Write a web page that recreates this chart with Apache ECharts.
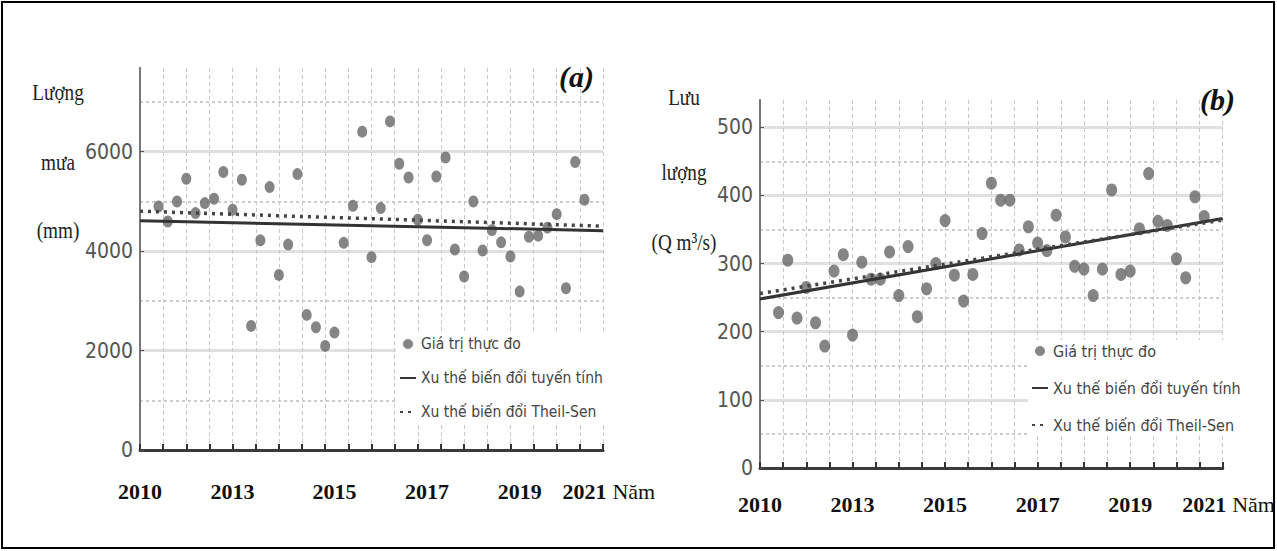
<!DOCTYPE html>
<html>
<head>
<meta charset="utf-8">
<script src="https://cdn.jsdelivr.net/npm/echarts@6/dist/echarts.min.js"></script>
<style>
  html, body { margin: 0; padding: 0; background: #fff; }
  #chart { width: 1277px; height: 551px; }
</style>
</head>
<body>
<div id="chart"></div>
<script>
// (a) rainfall, one value per observation slot 2..48
const rainfall = [4895, 4594, 4996, 5453, 4763, 4964, 5050, 5588, 4829, 5433,
  2495, 4215, 5286, 3520, 4130, 5547, 2716, 2469, 2093, 2360,
  4165, 4910, 6400, 3877, 4863, 6606, 5755, 5479, 4628, 4218,
  5499, 5882, 4030, 3487, 4996, 4010, 4420, 4175, 3889, 3185,
  4286, 4309, 4470, 4742, 3253, 5789, 5030]

// (b) discharge (Q m3/s)
const discharge = [228, 305, 220, 265, 213, 179, 289, 313, 195, 302,
  277, 277, 317, 253, 325, 222, 263, 300, 363, 283,
  245, 284, 344, 418, 393, 393, 320, 354, 330, 319,
  371, 339, 296, 292, 253, 292, 408, 284, 289, 351,
  432, 362, 356, 307, 279, 398, 369]

// trend lines, value at start and end of the axis
const trendLinearA = [4610, 4410]
const trendTheilA = [4800, 4500]
const trendLinearB = [248, 366]
const trendTheilB = [256, 364]

// x axis: 51 slots, year labels put on a few of them
const yearLabels = ['2010', '2013', '2015', '2017', '2019', '2021']
const yearSlotsA = [0, 10, 21, 31, 41, 48]
const yearSlotsB = [0, 10, 20, 30, 40, 48]
const slotCount = 51
const emptySlots = 2

const names = ['Giá trị thực đo', 'Xu thế biến đổi tuyến tính', 'Xu thế biến đổi Theil-Sen']

const SANS_N = "'Liberation Sans Narrow', 'DejaVu Sans Condensed', 'Liberation Sans', sans-serif"
const SERIF = "'Liberation Serif', 'DejaVu Serif', serif"

function slotLabels(slots) {
  const arr = new Array(slotCount).fill('')
  slots.forEach((s, i) => { arr[s] = yearLabels[i] })
  return arr
}

function padded(values) {
  return new Array(emptySlots).fill('-').concat(values)
}

function xAxes(grid, slots, labelMargin, namePad, nameGap) {
  return [{
    type: 'category', gridIndex: grid, position: 'bottom',
    data: slotLabels(slots), boundaryGap: false,
    axisLine: { show: true, lineStyle: { color: '#3a3a3a', width: 3 } },
    axisTick: { show: false },
    axisLabel: { interval: 0, margin: labelMargin, fontFamily: SERIF, fontWeight: 'bold', fontSize: 22, color: '#111' },
    splitLine: { show: false },
    name: 'Năm', nameLocation: 'end', nameGap: nameGap,
    nameTextStyle: { fontFamily: SERIF, fontSize: 22, color: '#111', verticalAlign: 'top', padding: [namePad, 0, 0, 0] }
  }, {
    type: 'value', gridIndex: grid, position: 'bottom', min: 0, max: 20, interval: 1,
    axisLine: { show: false },
    axisTick: { show: true, inside: true, length: 6, lineStyle: { color: '#333', width: 2 } },
    axisLabel: { show: false },
    splitLine: { show: true, lineStyle: { color: '#c8c8c8', type: [4, 3], width: 1 } }
  }]
}

function yAxes(grid, max, major, minor) {
  return [{
    type: 'value', gridIndex: grid, position: 'right', min: 0, max: max, interval: minor,
    axisLine: { show: true, lineStyle: { color: '#777', width: 2 } },
    axisTick: { show: false },
    axisLabel: { show: false },
    splitLine: { show: true, showMaxLine: false, lineStyle: { color: '#bdbdbd', type: [3, 3], width: 1.5 } }
  }, {
    type: 'value', gridIndex: grid, position: 'left', min: 0, max: max, interval: major,
    axisLine: { show: true, lineStyle: { color: '#777', width: 2 } },
    axisTick: { show: true, inside: true, length: 4, lineStyle: { color: '#555' } },
    axisLabel: { showMaxLabel: false, margin: 7, fontFamily: SANS_N, fontSize: 21, color: '#555', formatter: v => String(v) },
    splitLine: { show: true, showMaxLine: false, lineStyle: { color: '#e0e0e0', width: 3 } }
  }]
}

function panelSeries(xi, yi, values, lin, theil, size) {
  return [{
    name: names[0], type: 'scatter', xAxisIndex: xi, yAxisIndex: yi,
    data: padded(values), symbol: 'circle', symbolSize: size,
    itemStyle: { color: '#676767' }, z: 2
  }, {
    name: names[1], type: 'line', xAxisIndex: xi, yAxisIndex: yi,
    data: [[0, lin[0]], [slotCount - 1, lin[1]]], symbol: 'none',
    lineStyle: { color: '#333', width: 3 }, itemStyle: { color: '#333' }, z: 3
  }, {
    name: names[2], type: 'line', xAxisIndex: xi, yAxisIndex: yi,
    data: [[0, theil[0]], [slotCount - 1, theil[1]]], symbol: 'none',
    lineStyle: { color: '#444', width: 3.5, type: [3, 5] }, itemStyle: { color: '#444' }, z: 3
  }]
}

function yTitle(x, y, text) {
  return {
    type: 'text', x: x, y: y, scaleX: 0.8, silent: true,
    style: { text: text, font: '24px ' + SERIF, fill: '#222', align: 'center', verticalAlign: 'middle' }
  }
}

const chart = echarts.init(document.getElementById('chart'), null, { renderer: 'svg' })

function legendFor(left, top, gap, size) {
  return {
    data: [
      { name: names[0] },
      { name: names[1], itemStyle: { opacity: 0 } },
      { name: names[2], itemStyle: { opacity: 0 } }
    ],
    orient: 'vertical', left: left, top: top, itemGap: gap,
    itemWidth: 16, itemHeight: 10,
    backgroundColor: '#fff', padding: [3, 3, 3, 3],
    textStyle: { fontFamily: SANS_N, fontSize: size, color: '#444' }
  }
}

chart.setOption({
  animation: false,
  backgroundColor: '#fff',
  title: [
    { text: '(a)', left: 554, top: 56, textStyle: { fontFamily: SERIF, fontStyle: 'italic', fontWeight: 'bold', fontSize: 30, color: '#111' } },
    { text: '(b)', left: 1195, top: 79, textStyle: { fontFamily: SERIF, fontStyle: 'italic', fontWeight: 'bold', fontSize: 30, color: '#111' } }
  ],
  grid: [
    { left: 140, top: 68, width: 463, height: 382 },
    { left: 760, top: 100, width: 485, height: 368 }
  ],
  legend: [
    legendFor(396, 333, 18, 15.5),
    legendFor(1028, 340, 21, 16)
  ],
  xAxis: xAxes(0, yearSlotsA, 30, 30, 4).concat(xAxes(1, yearSlotsB, 25, 25, -5)),
  yAxis: yAxes(0, 7680, 2000, 1000).concat(yAxes(1, 540, 100, 50)),
  series: panelSeries(0, 1, rainfall, trendLinearA, trendTheilA, [10, 12])
    .concat(panelSeries(2, 3, discharge, trendLinearB, trendTheilB, [11, 13])),
  graphic: [
    { type: 'rect', silent: true, z: -10, shape: { x: 2, y: 2, width: 1272, height: 546 }, style: { fill: 'none', stroke: '#000', lineWidth: 2 } },
    yTitle(58, 92, 'Lượng'),
    yTitle(58, 162, 'mưa'),
    yTitle(58, 230, '(mm)'),
    yTitle(684, 97, 'Lưu'),
    yTitle(684, 172, 'lượng'),
    yTitle(684, 242, '(Q m³/s)')
  ]
})
</script>
</body>
</html>
